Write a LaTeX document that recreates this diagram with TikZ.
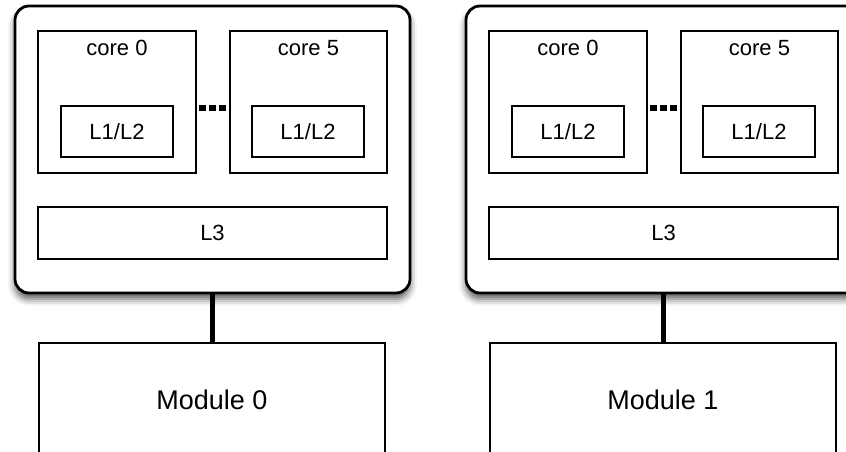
\documentclass[tikz,border=0pt]{standalone}
\usepackage{fontspec}
\setmainfont{Liberation Sans}
\usetikzlibrary{shadows.blur}
\begin{document}
\begin{tikzpicture}[x=1pt,y=-1pt,
  socket/.style={draw, line width=2.8pt, rounded corners=14pt, fill=white, inner sep=0pt, outer sep=0pt,
     blur shadow={shadow xshift=0pt, shadow yshift=-6pt, shadow blur radius=7pt, shadow opacity=65}},
  corebox/.style={draw, line width=2.2pt, fill=white, inner sep=0pt, outer sep=0pt, minimum width=158pt, minimum height=142pt},
  cachebox/.style={draw, line width=2.2pt, fill=white, inner sep=0pt, outer sep=0pt, minimum width=112pt, minimum height=51pt, font=\fontsize{22}{26}\selectfont},
  l3box/.style={draw, line width=2.2pt, fill=white, inner sep=0pt, outer sep=0pt, minimum width=349pt, minimum height=52pt, font=\fontsize{22}{26}\selectfont},
  modbox/.style={draw, line width=2.2pt, fill=white, inner sep=0pt, outer sep=0pt, minimum width=346pt, minimum height=114pt, font=\fontsize{27}{32}\selectfont},
  lbl/.style={inner sep=0pt, font=\fontsize{22}{26}\selectfont},
  link/.style={line width=5pt},
  dots/.style={line width=6pt, dash pattern=on 7pt off 3pt}
]
\useasboundingbox (0,0) rectangle (846,452);
\clip (0,0) rectangle (846,452);
\foreach \i/\dx in {0/0,1/451}{
  \begin{scope}[xshift=\dx pt]
    \node[socket, minimum width=395pt, minimum height=287pt] (s\i) at (212.5,149.5) {};
    \node[corebox] (ca\i) at (117,102) {};
    \node[corebox, minimum width=157pt] (cb\i) at (308.5,102) {};
    \node[lbl] (ta\i) at (117,48) {core 0};
    \node[lbl] (tb\i) at (308.5,48) {core 5};
    \node[cachebox] (la\i) at (117,131.5) {L1/L2};
    \node[cachebox] (lb\i) at (308,131.5) {L1/L2};
    \node[l3box] (l3\i) at (212.5,233) {L3};
    \node[modbox] (m\i) at (212,400) {Module \i};
    \draw[link] (s\i.south -| m\i.north) -- (m\i.north);
    \draw[dots] ([yshift=-2pt]ca\i.east |- la\i.north) ++(3pt,0) coordinate (d\i) -- ++(27pt,0);
  \end{scope}
}
\end{tikzpicture}
\end{document}
